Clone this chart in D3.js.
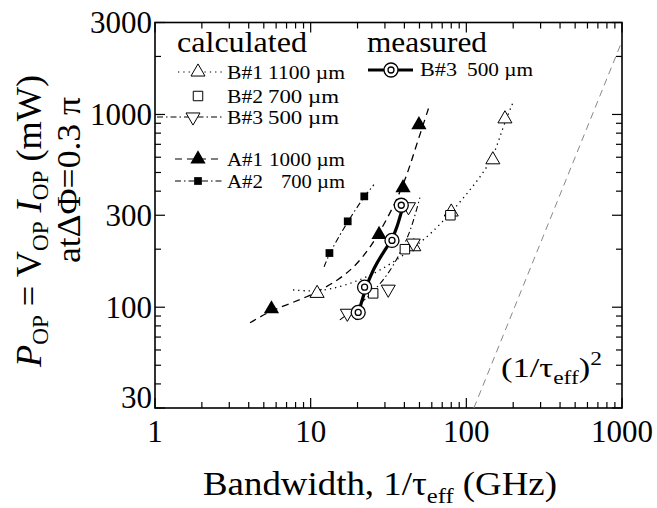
<!DOCTYPE html>
<html>
<head>
<meta charset="utf-8">
<script src="https://cdn.jsdelivr.net/npm/d3@7"></script>
<style>
  body { margin: 0; background: #fff; }
  svg { display: block; }
</style>
</head>
<body>
<div id="chart"></div>
<script>
// Drive power vs bandwidth, log-log

// calculated series [bandwidth GHz, power mW]
const b1Points = [[11, 118], [46, 206], [80, 312], [148, 582], [177, 949]];
const b1Curve = [[7.7, 123], [11, 120], [16.6, 129], [25.9, 149], [37.5, 181], [46.1, 204],
    [60.1, 243], [79.6, 309], [110, 421], [148, 582], [169, 832], [199, 1148]];
const b2Points = [[25.2, 118], [40.3, 200], [79, 300]];
const b3Points = [[17.2, 93], [31.5, 124], [45.6, 215], [42.5, 332]];
const b3Curve = [[15.4, 86], [20.7, 103], [27.9, 131], [33.8, 162], [41.5, 224], [45.4, 274], [50.3, 370]];
const a1Points = [[5.6, 98], [27.5, 238], [39.2, 416], [49.6, 883]];
const a1Curve = [[4.08, 83], [5.64, 97], [9.47, 112], [15.4, 139], [20.7, 172], [27.5, 238],
    [39.2, 416], [46.7, 655], [58.4, 1134]];
const a2Points = [[13.2, 191], [17.3, 279], [22.1, 376]];
const a2Curve = [[12.2, 162], [13.2, 191], [17.3, 279], [22.1, 376], [25.5, 432]];

// measured B#3
const measPoints = [[20.2, 94], [22.2, 127], [33.3, 222], [38.2, 338]];
const measCurve = [[19.7, 86], [22.3, 123], [25.1, 157], [30.0, 199], [33.3, 224], [35.8, 258], [38.6, 320]];

// (1/tau_eff)^2 reference line
const squareLaw = [[111.8, 30], [1000, 2400]];

const xTickLabels = [1, 10, 100, 1000];
const yTickLabels = [30, 100, 300, 1000, 3000];

const width = 657, height = 508;
const frame = { left: 155, right: 622, top: 22.5, bottom: 408 };
const serif = "'Liberation Serif', 'Times New Roman', Times, serif";

const svg = d3.select('#chart').append('svg')
    .attr('width', width)
    .attr('height', height)
    .attr('font-family', serif);

const x = d3.scaleLog().domain([1, 1000]).range([frame.left, frame.right]);
const y = d3.scaleLog().domain([30, 3000]).range([frame.bottom, frame.top]);

// ticks (inside, mirrored)
const ticks = svg.append('g').attr('stroke', '#000').attr('stroke-width', 1.2);
x.ticks().forEach(v => {
    const len = xTickLabels.includes(v) ? 10 : 6;
    ticks.append('line').attr('x1', x(v)).attr('x2', x(v)).attr('y1', frame.bottom).attr('y2', frame.bottom - len);
    ticks.append('line').attr('x1', x(v)).attr('x2', x(v)).attr('y1', frame.top).attr('y2', frame.top + len);
});
y.ticks().forEach(v => {
    const len = yTickLabels.includes(v) ? 10 : 6;
    ticks.append('line').attr('y1', y(v)).attr('y2', y(v)).attr('x1', frame.left).attr('x2', frame.left + len);
    ticks.append('line').attr('y1', y(v)).attr('y2', y(v)).attr('x1', frame.right).attr('x2', frame.right - len);
});

// frame
svg.append('rect')
    .attr('x', frame.left).attr('y', frame.top)
    .attr('width', frame.right - frame.left).attr('height', frame.bottom - frame.top)
    .attr('fill', 'none').attr('stroke', '#000').attr('stroke-width', 1.6);

// tick labels
svg.append('g').selectAll('text').data(xTickLabels).enter().append('text')
    .attr('x', d => x(d)).attr('y', 442)
    .attr('text-anchor', 'middle').attr('font-size', 31)
    .text(d => d);
svg.append('g').selectAll('text').data(yTickLabels).enter().append('text')
    .attr('x', 152).attr('y', d => d === 30 ? y(d) : y(d) + 10.5)
    .attr('text-anchor', 'end').attr('font-size', 31)
    .text(d => d);

// axis titles
const xt = svg.append('text').attr('x', 380).attr('y', 495)
    .attr('text-anchor', 'middle').attr('font-size', 33)
    .attr('textLength', 354).attr('lengthAdjust', 'spacingAndGlyphs');
xt.append('tspan').text('Bandwidth, 1/τ');
xt.append('tspan').attr('font-size', 22).attr('dy', 8).text('eff');
xt.append('tspan').attr('dy', -8).text(' (GHz)');

const yt = svg.append('text').attr('transform', 'translate(41,221) rotate(-90)')
    .attr('text-anchor', 'middle').attr('font-size', 36)
    .attr('textLength', 292).attr('lengthAdjust', 'spacingAndGlyphs');
yt.append('tspan').attr('font-style', 'italic').text('P');
yt.append('tspan').attr('font-size', 23).attr('dy', 7).text('OP');
yt.append('tspan').attr('dy', -7).text(' = V');
yt.append('tspan').attr('font-size', 23).attr('dy', 7).text('OP');
yt.append('tspan').attr('dy', -7).text(' ');
yt.append('tspan').attr('font-style', 'italic').text('I');
yt.append('tspan').attr('font-size', 23).attr('dy', 7).text('OP');
yt.append('tspan').attr('dy', -7).text(' (mW)');

svg.append('text').attr('transform', 'translate(80,180) rotate(-90)')
    .attr('text-anchor', 'middle').attr('font-size', 34)
    .attr('textLength', 166).attr('lengthAdjust', 'spacingAndGlyphs')
    .text('atΔΦ=0.3 π');

// lines
const line = d3.line().x(d => x(d[0])).y(d => y(d[1])).curve(d3.curveBasis);
const plot = svg.append('g');

plot.append('path').datum(squareLaw).attr('d', d3.line().x(d => x(d[0])).y(d => y(d[1])))
    .attr('fill', 'none').attr('stroke', '#888').attr('stroke-width', 1).attr('stroke-dasharray', '7,5');
plot.append('path').datum(b1Curve).attr('d', line)
    .attr('fill', 'none').attr('stroke', '#000').attr('stroke-width', 1.3).attr('stroke-dasharray', '1.3,4');
plot.append('path').datum(b3Curve).attr('d', line)
    .attr('fill', 'none').attr('stroke', '#000').attr('stroke-width', 1.1).attr('stroke-dasharray', '6,3,1.5,3');
plot.append('path').datum(a1Curve).attr('d', line)
    .attr('fill', 'none').attr('stroke', '#000').attr('stroke-width', 1.3).attr('stroke-dasharray', '7,5');
plot.append('path').datum(a2Curve).attr('d', line)
    .attr('fill', 'none').attr('stroke', '#000').attr('stroke-width', 1.1).attr('stroke-dasharray', '6,3,1.5,3');
plot.append('path').datum(measCurve).attr('d', line)
    .attr('fill', 'none').attr('stroke', '#000').attr('stroke-width', 3.2);

// markers
const triOpen = d3.symbol().type(d3.symbolTriangle).size(85)();
const triFill = d3.symbol().type(d3.symbolTriangle).size(100)();
const sqOpen = d3.symbol().type(d3.symbolSquare).size(90)();
const sqFill = d3.symbol().type(d3.symbolSquare).size(60)();

function drawMarker(g, kind, px, py) {
    if (kind === 'triOpen') {
        g.append('path').attr('d', triOpen).attr('transform', `translate(${px},${py})`)
            .attr('fill', '#fff').attr('stroke', '#000').attr('stroke-width', 1);
    } else if (kind === 'triFill') {
        g.append('path').attr('d', triFill).attr('transform', `translate(${px},${py})`)
            .attr('fill', '#000');
    } else if (kind === 'triDown') {
        g.append('path').attr('d', triOpen).attr('transform', `translate(${px},${py}) rotate(180)`)
            .attr('fill', '#fff').attr('stroke', '#000').attr('stroke-width', 1);
    } else if (kind === 'sqOpen') {
        g.append('path').attr('d', sqOpen).attr('transform', `translate(${px},${py})`)
            .attr('fill', '#fff').attr('stroke', '#000').attr('stroke-width', 1);
    } else if (kind === 'sqFill') {
        g.append('path').attr('d', sqFill).attr('transform', `translate(${px},${py})`)
            .attr('fill', '#000');
    } else if (kind === 'ring') {
        g.append('circle').attr('cx', px).attr('cy', py).attr('r', 7)
            .attr('fill', '#fff').attr('stroke', '#000').attr('stroke-width', 1.3);
        g.append('circle').attr('cx', px).attr('cy', py).attr('r', 3)
            .attr('fill', 'none').attr('stroke', '#000').attr('stroke-width', 1.3);
    }
}

a1Points.forEach(d => drawMarker(plot, 'triFill', x(d[0]), y(d[1])));
a2Points.forEach(d => drawMarker(plot, 'sqFill', x(d[0]), y(d[1])));
b1Points.forEach(d => drawMarker(plot, 'triOpen', x(d[0]), y(d[1])));
b3Points.forEach(d => drawMarker(plot, 'triDown', x(d[0]), y(d[1])));
b2Points.forEach(d => drawMarker(plot, 'sqOpen', x(d[0]), y(d[1])));
measPoints.forEach(d => drawMarker(plot, 'ring', x(d[0]), y(d[1])));

// annotation
const ann = svg.append('text').attr('x', 501).attr('y', 377).attr('font-size', 28)
    .attr('textLength', 101).attr('lengthAdjust', 'spacingAndGlyphs');
ann.append('tspan').text('(1/τ');
ann.append('tspan').attr('font-size', 19).attr('dy', 7).text('eff');
ann.append('tspan').attr('dy', -7).text(')');
ann.append('tspan').attr('font-size', 19).attr('dy', -12).text('2');

// legend
const leg = svg.append('g');
leg.append('text').attr('x', 177).attr('y', 52).attr('font-size', 29)
    .attr('textLength', 130).attr('lengthAdjust', 'spacingAndGlyphs').text('calculated');
leg.append('text').attr('x', 367).attr('y', 52).attr('font-size', 29)
    .attr('textLength', 120).attr('lengthAdjust', 'spacingAndGlyphs').text('measured');

const legendRows = [
    { name: 'B#1', value: '1100 µm', kind: 'triOpen', y: 72, x1: 178, mx: 198, dash: '1.3,4', vx: 268, vw: 77 },
    { name: 'B#2', value: '700 µm', kind: 'sqOpen', y: 96, x1: null, mx: 198, dash: null, vx: 268, vw: 71 },
    { name: 'B#3', value: '500 µm', kind: 'triDown', y: 117, x1: 157, mx: 193, dash: '6,3,1.5,3', vx: 268, vw: 71 },
    { name: 'A#1', value: '1000 µm', kind: 'triFill', y: 159, x1: 175, mx: 198, dash: '7,5', vx: 269, vw: 76 },
    { name: 'A#2', value: '700 µm', kind: 'sqFill', y: 181, x1: 175, mx: 198, dash: '6,3,1.5,3', vx: 281, vw: 64 }
];
legendRows.forEach(r => {
    if (r.x1 !== null) {
        leg.append('line').attr('x1', r.x1).attr('x2', 223).attr('y1', r.y).attr('y2', r.y)
            .attr('stroke', '#000').attr('stroke-width', 1.1).attr('stroke-dasharray', r.dash);
    }
    drawMarker(leg, r.kind, r.mx, r.y);
    leg.append('text').attr('x', 227).attr('y', r.y + 7).attr('font-size', 18)
        .attr('textLength', 36).attr('lengthAdjust', 'spacingAndGlyphs').text(r.name);
    leg.append('text').attr('x', r.vx).attr('y', r.y + 7).attr('font-size', 18)
        .attr('textLength', r.vw).attr('lengthAdjust', 'spacingAndGlyphs').text(r.value);
});

leg.append('line').attr('x1', 368).attr('x2', 413).attr('y1', 70).attr('y2', 70)
    .attr('stroke', '#000').attr('stroke-width', 3.2);
drawMarker(leg, 'ring', 391, 70);
leg.append('text').attr('x', 420).attr('y', 76).attr('font-size', 18)
    .attr('textLength', 37).attr('lengthAdjust', 'spacingAndGlyphs').text('B#3');
leg.append('text').attr('x', 467).attr('y', 76).attr('font-size', 18)
    .attr('textLength', 66).attr('lengthAdjust', 'spacingAndGlyphs').text('500 µm');
</script>
</body>
</html>
